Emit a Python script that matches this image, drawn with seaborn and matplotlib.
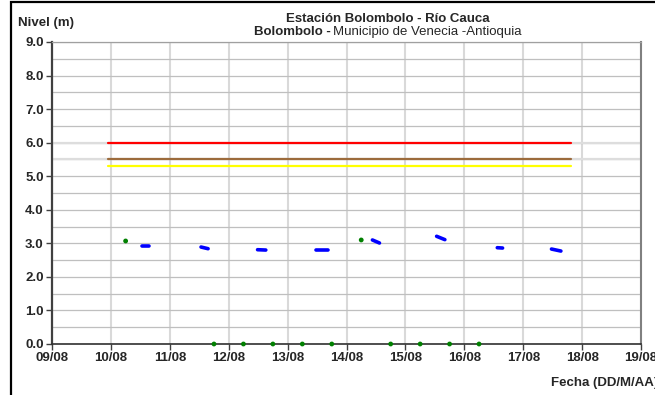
import numpy as np
import pandas as pd
import matplotlib
matplotlib.use("Agg")
import matplotlib.pyplot as plt
from matplotlib.patches import Rectangle
import seaborn as sns

# x values are days of August (fractional)
x_ticks = [9, 10, 11, 12, 13, 14, 15, 16, 17, 18, 19]
x_labels = ["09/08", "10/08", "11/08", "12/08", "13/08", "14/08",
            "15/08", "16/08", "17/08", "18/08", "19/08"]
y_ticks = [0, 1, 2, 3, 4, 5, 6, 7, 8, 9]

# blue level readings, one short stretch per day (start / end)
seg_start = [10.52, 11.53, 12.49, 13.48, 14.44, 15.53, 16.56, 17.48]
seg_end = [10.65, 11.65, 12.63, 13.69, 14.56, 15.67, 16.65, 17.64]
lev_start = [2.93, 2.89, 2.81, 2.79, 3.10, 3.21, 2.87, 2.83]
lev_end = [2.93, 2.84, 2.80, 2.79, 3.01, 3.11, 2.86, 2.77]

# green single readings
green_days = [10.25, 11.75, 12.25, 12.75, 13.25, 13.75, 14.25, 14.75, 15.25, 15.75, 16.25]
green_level = [3.07, 0, 0, 0, 0, 0, 3.10, 0, 0, 0, 0]

# alert thresholds
thr_names = ["roja", "naranja", "amarilla"]
thr_levels = [6.0, 5.5, 5.3]
thr_colors = ["#ff0000", "#9c6b3c", "#ffff00"]
thr_start = 9.95
thr_end = 17.81

sns.set_style("white")
plt.rcParams["font.family"] = ["Liberation Sans", "DejaVu Sans"]

fig = plt.figure(figsize=(6.55, 3.95), dpi=100)
ax = fig.add_axes([52 / 655, 1 - 344 / 395, 589 / 655, 302 / 395])

# faint full-width lines behind the two upper thresholds
bg_df = pd.DataFrame({"linea": ["a", "b", "a", "b"],
                      "dia": [9, 9, 19, 19],
                      "nivel": [6.0, 5.5, 6.0, 5.5]})
sns.lineplot(data=bg_df, x="dia", y="nivel", units="linea", estimator=None,
             color="#dddddd", lw=1.6, ax=ax, legend=False)

thr_df = pd.DataFrame({"umbral": thr_names * 2,
                       "dia": [thr_start] * 3 + [thr_end] * 3,
                       "nivel": thr_levels * 2})
sns.lineplot(data=thr_df, x="dia", y="nivel", hue="umbral", estimator=None,
             palette=dict(zip(thr_names, thr_colors)), lw=1.6, ax=ax, legend=False)

seg_df = pd.DataFrame({"tramo": list(range(len(seg_start))) * 2,
                       "dia": seg_start + seg_end,
                       "nivel": lev_start + lev_end})
sns.lineplot(data=seg_df, x="dia", y="nivel", units="tramo", estimator=None,
             color="#0000ff", lw=2.6, solid_capstyle="round", ax=ax, legend=False)

sns.scatterplot(x=green_days, y=green_level, color="#008000", s=12,
                edgecolor="none", ax=ax, zorder=5, clip_on=False)

ax.set_xlim(9, 19)
ax.set_ylim(0, 9)
ax.set_xticks(x_ticks)
ax.set_xticklabels(x_labels, fontweight="bold", fontsize=9.5)
ax.set_yticks(y_ticks)
ax.set_yticklabels([f"{v:.1f}" for v in y_ticks], fontweight="bold", fontsize=9.5)
ax.set_yticks(np.arange(0.5, 9, 1), minor=True)
ax.set_xlabel("")
ax.set_ylabel("")

ax.set_axisbelow(True)
ax.grid(axis="x", which="major", color="#d9d9d9", lw=1.5)
ax.grid(axis="y", which="both", color="#bfbfbf", lw=0.9)
ax.tick_params(axis="both", which="major", direction="out", length=4,
               width=1, color="#404040", pad=2, bottom=True, left=True)
ax.tick_params(axis="y", which="minor", length=0)

ax.spines["left"].set_color("#404040")
ax.spines["left"].set_linewidth(1.6)
ax.spines["bottom"].set_color("#303030")
ax.spines["bottom"].set_linewidth(1.2)
ax.spines["right"].set_color("#808080")
ax.spines["right"].set_linewidth(1.5)
ax.spines["top"].set_color("#a0a0a0")
ax.spines["top"].set_linewidth(0.9)

# texts
fig.text(18 / 655, 1 - 23 / 395, "Nivel (m)", fontweight="bold", fontsize=9.5,
         ha="left", va="center")
fig.text(388 / 655, 1 - 19 / 395, "Estación Bolombolo - Río Cauca",
         fontweight="bold", fontsize=9.5, ha="center", va="center")
fig.text(331 / 655, 1 - 32 / 395, "Bolombolo -", fontweight="bold", fontsize=9.5,
         ha="right", va="center")
fig.text(333 / 655, 1 - 32 / 395, "Municipio de Venecia -Antioquia", fontsize=9.5,
         ha="left", va="center")
fig.text(551 / 655, 1 - 383 / 395, "Fecha (DD/M/AA)", fontweight="bold",
         fontsize=9.5, ha="left", va="center")

# outer frame (open on the right and bottom as in the source image)
fig.patches.append(Rectangle((11 / 655, -0.1), 1.2, 1.1 - 2 / 395,
                             transform=fig.transFigure, fill=False,
                             edgecolor="black", lw=1.6))

fig.savefig("out.png", dpi=100)
